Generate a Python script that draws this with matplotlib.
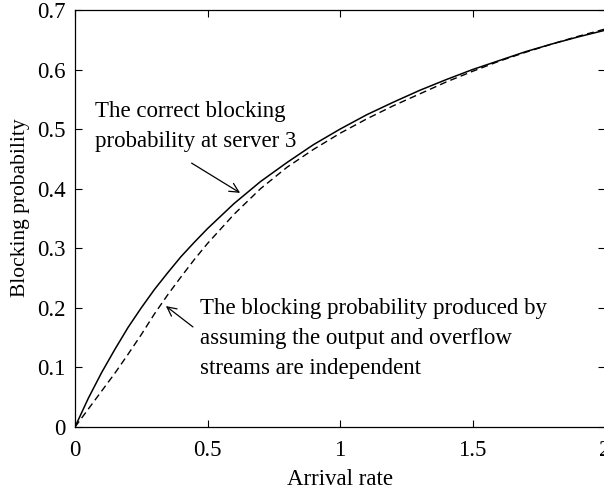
import numpy as np
import matplotlib.pyplot as plt

plt.rcParams['font.family'] = ['Liberation Serif', 'DejaVu Serif']
plt.rcParams['font.size'] = 16.5

# arrival rate and blocking probabilities
rate = [0, 0.05, 0.1, 0.15, 0.2, 0.25, 0.3, 0.35, 0.4, 0.45, 0.5, 0.6, 0.7,
        0.8, 0.9, 1.0, 1.1, 1.2, 1.3, 1.4, 1.5, 1.6, 1.7, 1.8, 1.9, 2.0]
correct = [0, 0.048, 0.091, 0.130, 0.167, 0.200, 0.231, 0.259, 0.286, 0.310,
           0.333, 0.375, 0.412, 0.444, 0.474, 0.500, 0.524, 0.545, 0.565,
           0.583, 0.600, 0.615, 0.630, 0.643, 0.655, 0.666]
independent = [0, 0.030, 0.060, 0.090, 0.122, 0.155, 0.190, 0.222, 0.252,
               0.281, 0.308, 0.357, 0.400, 0.436, 0.466, 0.493, 0.517, 0.539,
               0.559, 0.579, 0.597, 0.614, 0.629, 0.643, 0.656, 0.668]

fig = plt.figure(figsize=(6.04, 4.95), dpi=100)
ax = fig.add_axes([75/604, 68/495, 530/604, 417/495])

ax.plot(rate, correct, color='black', linewidth=1.1)
ax.plot(rate, independent, color='black', linewidth=1.0, linestyle=(0, (5, 3)))

ax.set_xlim(0, 2)
ax.set_ylim(0, 0.7)
ax.set_xticks([0, 0.5, 1, 1.5, 2])
ax.set_xticklabels(['0', '0.5', '1', '1.5', '2'])
ax.set_yticks(np.arange(0, 0.71, 0.1))
ax.set_yticklabels(['0', '0.1', '0.2', '0.3', '0.4', '0.5', '0.6', '0.7'])
ax.tick_params(direction='in', top=True, right=True, length=5, width=0.8)
ax.tick_params(axis='x', pad=9)
ax.tick_params(axis='y', pad=7)
for s in ax.spines.values():
    s.set_linewidth(0.9)

ax.set_xlabel('Arrival rate', labelpad=6)
ax.set_ylabel('Blocking probability', fontsize=15.5)
ax.yaxis.set_label_coords(-0.084, 0.525)

ax.text(0.075, 0.504, 'The correct blocking\nprobability at server 3',
        ha='left', va='center', linespacing=1.56)
ax.annotate('', xy=(0.623, 0.393), xytext=(0.44, 0.443),
            arrowprops=dict(arrowstyle='->', color='black', lw=0.9,
                            shrinkA=0, shrinkB=0))

ax.text(0.472, 0.148, 'The blocking probability produced by\nassuming the output and overflow\nstreams are independent',
        ha='left', va='center', linespacing=1.56)
ax.annotate('', xy=(0.343, 0.203), xytext=(0.445, 0.168),
            arrowprops=dict(arrowstyle='->', color='black', lw=0.9,
                            shrinkA=0, shrinkB=0))

fig.savefig('out.png', dpi=100)
